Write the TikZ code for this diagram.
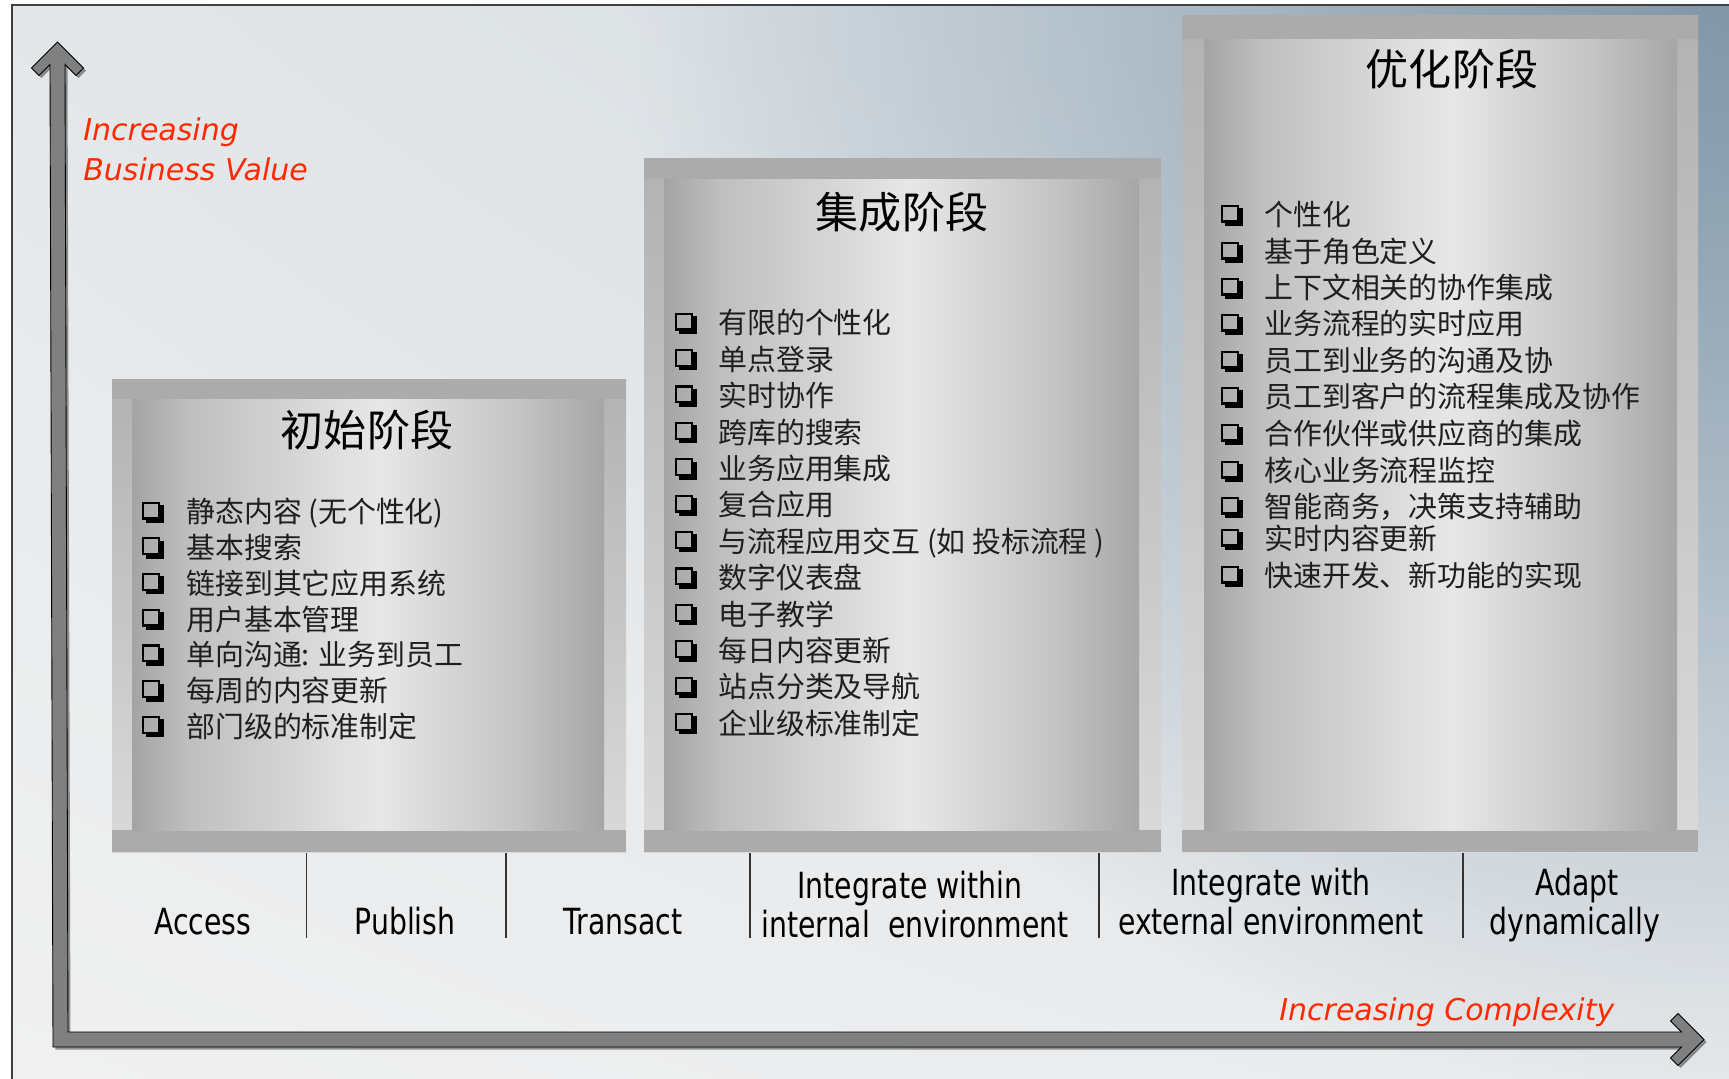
\documentclass[tikz,border=0pt]{standalone}
\usepackage{fontspec}
\usetikzlibrary{shadings,fadings}
\setmainfont{DejaVu Sans}
\newfontfamily\cjk{Noto Sans CJK SC}
\newfontfamily\labfont[FakeStretch=0.786]{DejaVu Sans}

\definecolor{bgUL}{HTML}{E4E7E9}
\definecolor{bgUR}{HTML}{D2DAE0}
\definecolor{bgLL}{HTML}{F0F0F0}
\definecolor{bgLR}{HTML}{E8EAEC}
\definecolor{bgblue}{HTML}{8197A8}
\definecolor{band}{HTML}{ABABAB}
\definecolor{sideTop}{HTML}{B2B2B2}
\definecolor{sideBot}{HTML}{DADADA}
\definecolor{inEdgeL}{HTML}{A4A4A4}
\definecolor{inMidL}{HTML}{BFBFBF}
\definecolor{inLight}{HTML}{E7E7E7}
\definecolor{inMidR}{HTML}{C4C4C4}
\definecolor{inEdgeR}{HTML}{A6A6A6}
\definecolor{redlab}{HTML}{FF2A00}
\definecolor{arrowgray}{HTML}{808080}

\tikzfading[name=cornerfade, inner color=transparent!0, outer color=transparent!100]

\pgfdeclarehorizontalshading{boxin}{100bp}{color(0bp)=(inEdgeL); color(25bp)=(inEdgeL); color(31bp)=(inMidL); color(51bp)=(inLight); color(66bp)=(inMidR); color(75bp)=(inEdgeR); color(100bp)=(inEdgeR)}

% outer x1 y1 x2 y2, inner x1 y1 x2 y2
\newcommand\stagebox[8]{%
  \shade[top color=sideTop, bottom color=sideBot] (#1,#2) rectangle (#3,#4);
  \fill[band] (#1,#2) rectangle (#3,#6);
  \fill[band] (#1,#8) rectangle (#3,#4);
  \shade[shading=boxin] (#5,#6) rectangle (#7,#8);
}
% hollow shadowed square bullet: left x, centre y
\newcommand\qbox[2]{%
  \draw[black, line width=1.25pt] (#1+1.1,#2-9.4) rectangle (#1+16.9,#2+6.4);
  \fill[black] (#1+18,#2-7) rectangle (#1+21.5,#2+11);
  \fill[black] (#1+3.5,#2+7.5) rectangle (#1+21.5,#2+11);
}

\begin{document}
\begin{tikzpicture}[x=0.02cm, y=-0.02cm,
  itemtxt/.style={font=\cjk\fontsize{16.45}{18}\selectfont, text=black!88, anchor=west, inner sep=0pt, text height=14.5pt, text depth=2pt},
  titletxt/.style={font=\cjk\fontsize{24.5}{28}\selectfont, text=black, inner sep=0pt, text height=21.5pt, text depth=3pt},
  axislab/.style={font=\labfont\fontsize{20.5}{24}\selectfont, text=black, anchor=base, inner sep=0pt},
  redlabel/.style={font=\fontsize{17.07}{20}\selectfont\itshape, text=redlab, anchor=base west, inner sep=0pt},
  sepline/.style={draw=black!80, line width=0.6pt}
]
\useasboundingbox (0,0) rectangle (1729,1079);
\fill[white] (0,0) rectangle (1729,1079);
\shade[upper left=bgUL, upper right=bgUR, lower left=bgLL, lower right=bgLR] (12,5) rectangle (1729,1079);
\begin{scope}
  \clip (12,5) rectangle (1729,1079);
  \fill[bgblue, path fading=cornerfade] (629,-1100) rectangle (2829,1100);
\end{scope}
\draw[black!75, line width=0.8pt] (12,1079) -- (12,5) -- (1729,5);

% stage boxes
\stagebox{112}{379}{626}{852}{132}{399}{604}{830}
\stagebox{644}{158}{1161}{852}{664}{179}{1139}{830}
\stagebox{1182}{15}{1698}{852}{1204}{39}{1677}{830}

% titles
\node[titletxt] (t1) at (367,430) {初始阶段};
\node[titletxt] (t2) at (902,212) {集成阶段};
\node[titletxt] (t3) at (1452,69) {优化阶段};

% box 1 items
\foreach \t [count=\i] in {{静态内容 (无个性化)},{基本搜索},{链接到其它应用系统},{用户基本管理},{单向沟通: 业务到员工},{每周的内容更新},{部门级的标准制定}} {
  \pgfmathsetmacro\yy{512+35.7*(\i-1)}
  \qbox{142}{\yy}
  \node[itemtxt] (a\i) at (186,\yy) {\t};
}
% box 2 items
\foreach \t [count=\i] in {{有限的个性化},{单点登录},{实时协作},{跨库的搜索},{业务应用集成},{复合应用},{与流程应用交互 (如 投标流程 )},{数字仪表盘},{电子教学},{每日内容更新},{站点分类及导航},{企业级标准制定}} {
  \pgfmathsetmacro\yy{323+36.4*(\i-1)}
  \qbox{675}{\yy}
  \node[itemtxt] (b\i) at (718,\yy) {\t};
}
% box 3 items
\foreach \yy/\t [count=\i] in {215/{个性化},252/{基于角色定义},288/{上下文相关的协作集成},324/{业务流程的实时应用},361/{员工到业务的沟通及协},397/{员工到客户的流程集成及协作},434/{合作伙伴或供应商的集成},471/{核心业务流程监控},507/{智能商务，决策支持辅助},539/{实时内容更新},576/{快速开发、新功能的实现}} {
  \qbox{1221}{\yy}
  \node[itemtxt] (c\i) at (1264,\yy) {\t};
}

% axes
\fill[black, opacity=0.4, shift={(2.5,2.5)}] (57.5,42) -- (83.5,68) -- (76,75.5) -- (65,64.5) -- (68,1032) -- (1681.5,1032) -- (1670.5,1021) -- (1678,1013.5) -- (1704,1039.5) -- (1678,1065.5) -- (1670.5,1058) -- (1681.5,1047) -- (53,1047) -- (50,64.5) -- (39,75.5) -- (31.5,68) -- cycle;
\filldraw[fill=arrowgray, draw=black, line width=0.5pt, line join=miter] (57.5,42) -- (83.5,68) -- (76,75.5) -- (65,64.5) -- (68,1032) -- (1681.5,1032) -- (1670.5,1021) -- (1678,1013.5) -- (1704,1039.5) -- (1678,1065.5) -- (1670.5,1058) -- (1681.5,1047) -- (53,1047) -- (50,64.5) -- (39,75.5) -- (31.5,68) -- cycle;

% axis labels
\node[redlabel] (ibv1) at (83,140) {Increasing};
\node[redlabel] (ibv2) at (83,180) {Business Value};
\node[redlabel] (icx) at (1279,1020) {Increasing Complexity};

% separators
\foreach \xx in {306.5,506,750,1099,1463} {
  \draw[sepline] (\xx,853) -- (\xx,938);
}

% bottom labels
\node[axislab] (l1) at (203,934) {Access};
\node[axislab] (l2) at (405,934) {Publish};
\node[axislab] (l3) at (623,934) {Transact};
\node[axislab] (l4a) at (910,898) {Integrate within};
\node[axislab] (l4b) at (915,937) {internal\ \ environment};
\node[axislab] (l5a) at (1271,895) {Integrate with};
\node[axislab] (l5b) at (1271,934) {external environment};
\node[axislab] (l6a) at (1577,895) {Adapt};
\node[axislab] (l6b) at (1575,934) {dynamically};
\end{tikzpicture}
\end{document}
